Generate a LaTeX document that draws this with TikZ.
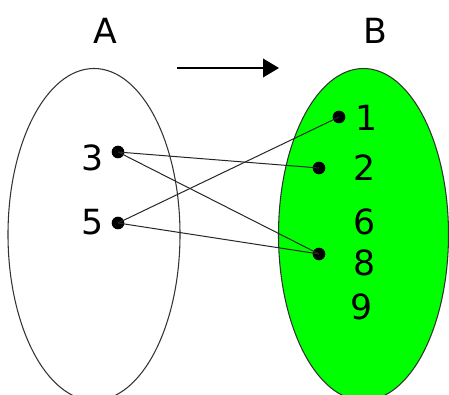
\documentclass[tikz,border=0pt]{standalone}
\usepackage{fontspec}
\setmainfont{DejaVu Sans}
\usetikzlibrary{shapes.geometric,arrows.meta}
\begin{document}
\begin{tikzpicture}[x=0.75pt,y=-0.75pt,
  setel/.style={ellipse,draw=black!80,line width=0.8pt,inner sep=0pt,minimum height=249pt},
  lbl/.style={font=\fontsize{26}{26}\selectfont,inner sep=0pt},
  dot/.style={circle,fill=black,inner sep=0pt,minimum size=9.5pt},
  link/.style={draw=black!85,line width=0.75pt}]
\useasboundingbox (0,0) rectangle (449,395);
\node[setel,minimum width=129pt] (A) at (94,234.5) {};
\node[setel,fill=green,minimum width=127.5pt] (B) at (363.5,234.5) {};
\node[lbl] (la) at (105,31) {A};
\node[lbl] (lb) at (375,31) {B};
\coordinate (aL) at (177,68);
\coordinate (aR) at (279,68);
\draw[line width=1.1pt,-{Triangle[length=12pt,width=14pt]}] (aL) -- (aR);
\node[dot] (d3) at (118,152) {};
\node[dot] (d5) at (118,223) {};
\node[lbl] (t3) at (93,158) {3};
\node[lbl] (t5) at (93,222) {5};
\node[dot] (d1) at (339,117) {};
\node[dot] (d2) at (319,168) {};
\node[dot] (d8) at (319,254) {};
\node[lbl] (t1) at (367,118) {1};
\node[lbl] (t2) at (365,168) {2};
\node[lbl] (t6) at (365,222) {6};
\node[lbl] (t8) at (365,263) {8};
\node[lbl] (t9) at (362,307) {9};
\draw[link] (d3.center) -- (d2.center);
\draw[link] (d3.center) -- (d8.center);
\draw[link] (d5.center) -- (d1.center);
\draw[link] (d5.center) -- (d8.center);
\end{tikzpicture}
\end{document}
